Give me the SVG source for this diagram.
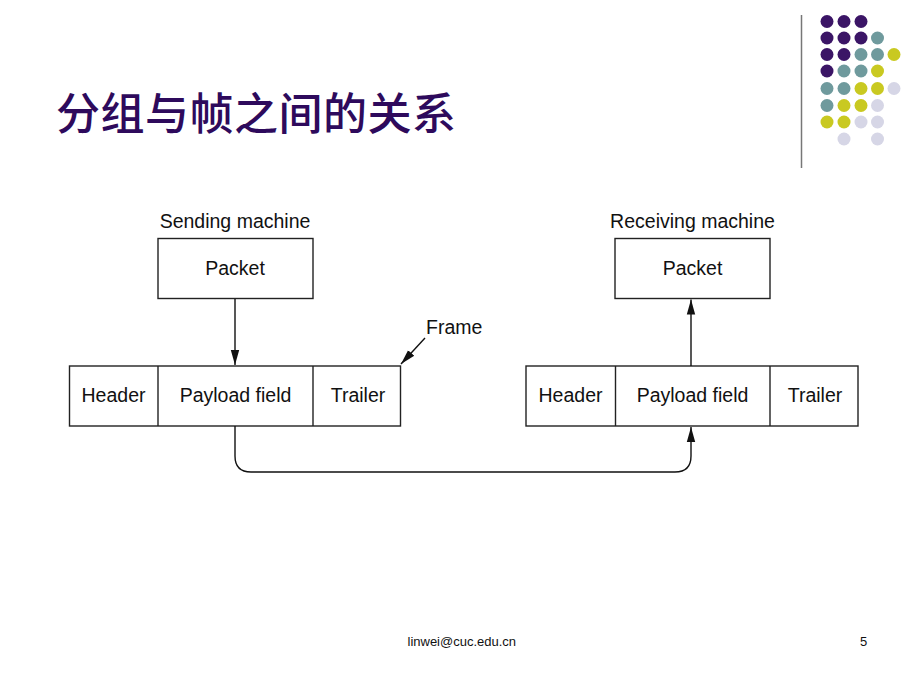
<svg xmlns="http://www.w3.org/2000/svg" width="920" height="690" viewBox="0 0 920 690">
<defs>
<style>
.box{fill:#fff;stroke:#222;stroke-width:1.4}
.lbl{font-family:"Liberation Sans",Arial,sans-serif;font-size:19.5px;fill:#111;text-anchor:middle}
.con{fill:none;stroke:#111;stroke-width:1.4}
.foot{font-family:"Liberation Sans",Arial,sans-serif;font-size:13px;fill:#111}
.p{fill:#3b1566}.t{fill:#6f9a9d}.y{fill:#c9c921}.l{fill:#d6d6e6}
</style>
<marker id="arr" markerUnits="userSpaceOnUse" markerWidth="16" markerHeight="10" refX="15" refY="5" orient="auto">
<path d="M0,0.8 L15,5 L0,9.2 Z" fill="#111"/>
</marker>
</defs>
<rect width="920" height="690" fill="#fff"/>
<g id="decoration">
<line x1="801.5" y1="15" x2="801.5" y2="168" stroke="#777" stroke-width="1.5"/>
<g>
<circle class="p" cx="827" cy="21.5" r="6.5"/><circle class="p" cx="844" cy="21.5" r="6.5"/><circle class="p" cx="861" cy="21.5" r="6.5"/>
<circle class="p" cx="827" cy="38" r="6.5"/><circle class="p" cx="844" cy="38" r="6.5"/><circle class="p" cx="861" cy="38" r="6.5"/><circle class="t" cx="877.5" cy="38" r="6.5"/>
<circle class="p" cx="827" cy="54.5" r="6.5"/><circle class="p" cx="844" cy="54.5" r="6.5"/><circle class="t" cx="861" cy="54.5" r="6.5"/><circle class="t" cx="877.5" cy="54.5" r="6.5"/><circle class="y" cx="894" cy="54.5" r="6.5"/>
<circle class="p" cx="827" cy="71" r="6.5"/><circle class="t" cx="844" cy="71" r="6.5"/><circle class="t" cx="861" cy="71" r="6.5"/><circle class="y" cx="877.5" cy="71" r="6.5"/>
<circle class="t" cx="827" cy="88.5" r="6.5"/><circle class="t" cx="844" cy="88.5" r="6.5"/><circle class="y" cx="861" cy="88.5" r="6.5"/><circle class="y" cx="877.5" cy="88.5" r="6.5"/><circle class="l" cx="894" cy="88.5" r="6.5"/>
<circle class="t" cx="827" cy="105.5" r="6.5"/><circle class="y" cx="844" cy="105.5" r="6.5"/><circle class="y" cx="861" cy="105.5" r="6.5"/><circle class="l" cx="877.5" cy="105.5" r="6.5"/>
<circle class="y" cx="827" cy="122" r="6.5"/><circle class="y" cx="844" cy="122" r="6.5"/><circle class="l" cx="861" cy="122" r="6.5"/><circle class="l" cx="877.5" cy="122" r="6.5"/>
<circle class="l" cx="844" cy="139" r="6.5"/><circle class="l" cx="877.5" cy="139" r="6.5"/>
</g>
</g>
<text id="title" x="56" y="130" font-family="'Noto Sans CJK SC','Noto Sans CJK JP',sans-serif" font-size="44" font-weight="500" fill="#2e0a5c" textLength="400">分组与帧之间的关系</text>
<g id="send-packet">
<text class="lbl" x="235" y="228">Sending machine</text>
<rect class="box" x="158" y="238.5" width="155" height="60"/>
<text class="lbl" x="235" y="275">Packet</text>
</g>
<g id="send-frame">
<rect class="box" x="69.5" y="366" width="331" height="60"/>
<line class="box" x1="158" y1="366" x2="158" y2="426"/>
<line class="box" x1="313" y1="366" x2="313" y2="426"/>
<text class="lbl" x="113.5" y="402">Header</text>
<text class="lbl" x="235.5" y="402">Payload field</text>
<text class="lbl" x="358" y="402">Trailer</text>
</g>
<g id="frame-label">
<text class="lbl" x="426" y="334" style="text-anchor:start">Frame</text>
</g>
<g id="recv-packet">
<text class="lbl" x="692.5" y="228">Receiving machine</text>
<rect class="box" x="615" y="238.5" width="155" height="60"/>
<text class="lbl" x="692.5" y="275">Packet</text>
</g>
<g id="recv-frame">
<rect class="box" x="526" y="366" width="332" height="60"/>
<line class="box" x1="615.5" y1="366" x2="615.5" y2="426"/>
<line class="box" x1="770" y1="366" x2="770" y2="426"/>
<text class="lbl" x="570.5" y="402">Header</text>
<text class="lbl" x="692.5" y="402">Payload field</text>
<text class="lbl" x="815" y="402">Trailer</text>
</g>
<g id="connectors">
<line class="con" x1="235" y1="299" x2="235" y2="365" marker-end="url(#arr)"/>
<line class="con" x1="425" y1="338" x2="401" y2="364" marker-end="url(#arr)"/>
<line class="con" x1="691" y1="366" x2="691" y2="299.5" marker-end="url(#arr)"/>
<path class="con" d="M235,426 V456 Q235,472 251,472 H675 Q691,472 691,456 V427" marker-end="url(#arr)"/>
</g>
<g id="footer">
<text class="foot" x="407.5" y="646">linwei@cuc.edu.cn</text>
<text class="foot" x="860" y="646">5</text>
</g>
</svg>
